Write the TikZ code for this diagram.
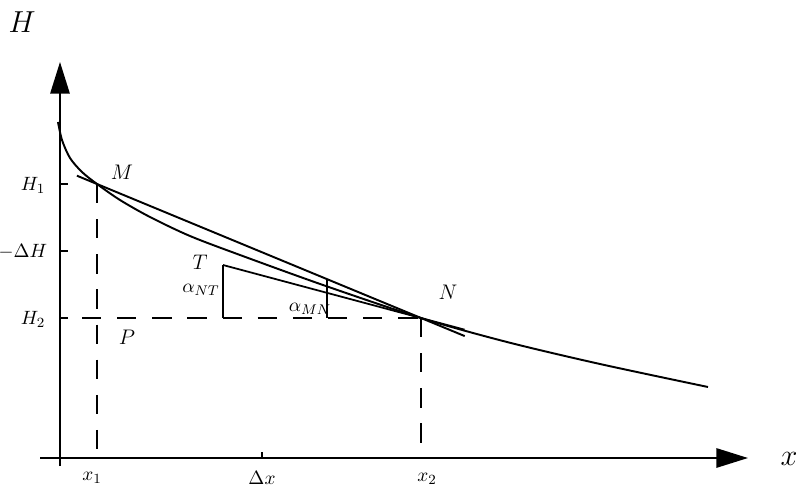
\documentclass[tikz,border=0pt]{standalone}
\usepackage{amsmath,amssymb}
\usepackage{xcolor}
\usepackage{tikz}
\usetikzlibrary{calc,arrows.meta}

\begin{document}
\begin{tikzpicture}[x=0.02cm, y=-0.02cm,
    axis/.style={black, line width=1.1, -{Triangle[length=18pt,width=11pt]}},
    guide/.style={black, line width=0.8, dash pattern=on 11pt off 9pt},
    curve/.style={black, line width=1.1},
    lbl/.style={black, font=\fontsize{12}{14}\selectfont},
    ticklbl/.style={black, font=\fontsize{11}{13}\selectfont}]
    \useasboundingbox (0,0) rectangle (796,491);
    \coordinate (O) at (60,458);
    \coordinate (M) at (97,184);
    \coordinate (N) at (421,318);
    \coordinate (T) at (223,265);
    \coordinate (Q) at ($(M)!0.71!(N)$);
    % axes
    \draw[axis] ($(O)+(0,8)$) -- (60,62);
    \draw[axis] (40,458) -- (748,458);
    \node[black, font=\fontsize{17}{20}\selectfont] (H) at (22,22) {$H$};
    \node[black, font=\fontsize{17}{20}\selectfont] (X) at (789,459) {$x$};
    % ticks
    \draw[black, line width=0.8] (O |- M) -- ++(8,0);
    \draw[black, line width=0.8] (60,251) -- ++(8,0);
    \draw[black, line width=0.8] (O |- N) -- ++(8,0);
    \draw[black, line width=0.8] (262,458) -- ++(0,-6);
    \node[ticklbl] (h1) at (33,185) {$H_1$};
    \node[ticklbl] (dh) at (23,252) {$-\Delta H$};
    \node[ticklbl] (h2) at (33,319) {$H_2$};
    \node[ticklbl] (x1) at (92,478) {$x_1$};
    \node[ticklbl] (dx) at (262,478) {$\Delta x$};
    \node[ticklbl] (x2) at (427,479) {$x_2$};
    % dashed guides
    \draw[guide] (M) -- (M |- O);
    \draw[guide] (N) -- (N |- O);
    \draw[guide] ($(O |- N)+(22,0)$) -- (N);
    % curve H(x)
    \draw[curve] plot[smooth] coordinates {(58,122) (62,140) (70,158) (82,172) (97,184) (120,200) (150,217) (190,236) (240,255) (323,285) (421,318) (507,342) (600,364) (708,387)};
    % chord MN and tangent TN
    \draw[curve] ($(M)!-0.062!(N)$) -- ($(N)!-0.135!(M)$);
    \draw[black, line width=1] (T) -- ($(N)!-0.22!(T)$);
    \draw[black, line width=1] (T) -- (T |- N);
    \draw[black, line width=1] (Q) -- (Q |- N);
    % labels
    \node[lbl] (m) at (122,172) {$M$};
    \node[lbl] (n) at (448,292) {$N$};
    \node[lbl] (t) at (200,262) {$T$};
    \node[lbl] (p) at (127,337) {$P$};
    \node[ticklbl] (ant) at (201,290) {$\alpha_{NT}$};
    \node[ticklbl] (amn) at (310,309) {$\alpha_{MN}$};
\end{tikzpicture}
\end{document}
